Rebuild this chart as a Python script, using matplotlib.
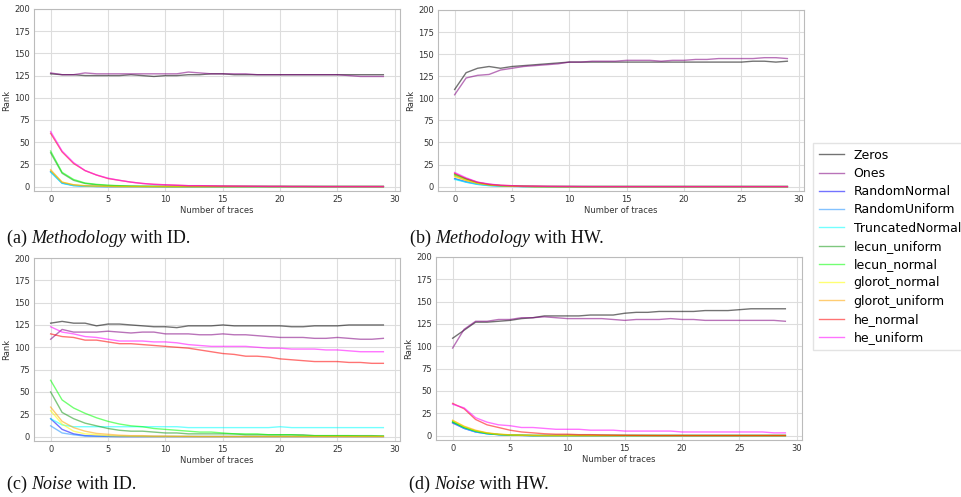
import matplotlib
matplotlib.use("Agg")
import matplotlib.pyplot as plt
import numpy as np

# number of traces on x axis
traces = list(range(30))

names = ["Zeros", "Ones", "RandomNormal", "RandomUniform", "TruncatedNormal",
         "lecun_uniform", "lecun_normal", "glorot_normal", "glorot_uniform",
         "he_normal", "he_uniform"]
colors = ["black", "purple", "blue", "dodgerblue", "cyan", "#159915", "lime",
          "yellow", "orange", "red", "magenta"]

Z = [0] * 30

# (a) Methodology with ID
meth_id = {
    "Zeros": [127, 126, 126, 125, 125, 125, 125, 126, 125, 124, 125, 125, 126, 126, 127,
              127, 126, 126, 126, 126, 126, 126, 126, 126, 126, 126, 126, 126, 126, 126],
    "Ones": [128, 126, 126, 128, 127, 127, 127, 127, 127, 127, 127, 127, 129, 128, 127,
             127, 127, 127, 126, 126, 126, 126, 126, 126, 126, 126, 125, 124, 124, 124],
    "RandomNormal": [17, 4, 1.5, 0.5, 0.2] + Z[:25],
    "RandomUniform": [17, 4, 1, 0.5, 0.1] + Z[:25],
    "TruncatedNormal": [16, 3.5, 1, 0.3, 0.1] + Z[:25],
    "lecun_uniform": [38, 15, 7, 3.5, 2, 1.2, 0.8, 0.4, 0.2, 0.1] + Z[:20],
    "lecun_normal": [40, 16, 8, 4, 2.5, 1.5, 1, 0.5, 0.3, 0.2, 0.1] + Z[:19],
    "glorot_normal": [18, 5, 2, 0.8, 0.4, 0.2] + Z[:24],
    "glorot_uniform": [19, 5, 2, 1, 0.5, 0.2] + Z[:24],
    "he_normal": [60, 39, 26, 18, 13, 9, 7, 5, 3.5, 2.5, 2, 1.5, 1, 1, 0.8, 0.6, 0.5,
                  0.4, 0.3, 0.2, 0.2, 0.1, 0.1, 0, 0, 0, 0, 0, 0, 0],
    "he_uniform": [62, 40, 27, 18, 13, 9.5, 7, 5, 3.5, 2.5, 2, 1.5, 1, 1, 0.8, 0.6, 0.5,
                   0.4, 0.3, 0.2, 0.2, 0.1, 0.1, 0.1, 0, 0, 0, 0, 0, 0],
}

# (b) Methodology with HW
meth_hw = {
    "Zeros": [110, 129, 134, 136, 134, 136, 137, 138, 139, 140, 141, 141, 141, 141, 141,
              141, 141, 141, 141, 141, 141, 141, 141, 141, 141, 141, 142, 142, 141, 142],
    "Ones": [104, 123, 126, 127, 132, 134, 136, 137, 138, 139, 141, 141, 142, 142, 142,
             143, 143, 143, 142, 143, 143, 144, 144, 145, 145, 145, 145, 146, 146, 145],
    "RandomNormal": [9, 5.5, 3, 1.5, 0.8, 0.4, 0.2] + Z[:23],
    "RandomUniform": [9, 5, 2.5, 1.2, 0.6, 0.3] + Z[:24],
    "TruncatedNormal": [8, 5, 2.5, 1, 0.5, 0.2] + Z[:24],
    "lecun_uniform": [14, 9, 4.5, 2.5, 1.2, 0.8, 0.4, 0.2] + Z[:22],
    "lecun_normal": [13, 8, 4, 2, 1, 0.5, 0.2] + Z[:23],
    "glorot_normal": [11, 7, 3.5, 2, 1, 0.5, 0.2] + Z[:23],
    "glorot_uniform": [12, 7, 4, 2, 1, 0.5, 0.2] + Z[:23],
    "he_normal": [15, 9, 5, 2.5, 1.5, 1, 0.5, 0.5, 0.3, 0.2, 0.1] + Z[:19],
    "he_uniform": [16, 10, 5, 3, 1.5, 1, 0.5, 0.5, 0.3, 0.2, 0.2, 0.1] + Z[:18],
}

# (c) Noise with ID
noise_id = {
    "Zeros": [127, 129, 127, 127, 124, 126, 126, 125, 124, 123, 123, 122, 124, 124, 124,
              125, 124, 124, 124, 124, 124, 123, 123, 124, 124, 124, 125, 125, 125, 125],
    "Ones": [109, 120, 117, 117, 117, 118, 117, 116, 117, 117, 115, 115, 115, 114, 114,
             115, 114, 114, 113, 112, 111, 111, 111, 110, 110, 111, 110, 109, 109, 110],
    "RandomNormal": [20, 8, 3, 1, 0.5, 0.2] + Z[:24],
    "RandomUniform": [12, 4, 2, 0.5, 0.2] + Z[:25],
    "TruncatedNormal": [20, 13, 11, 11, 11, 11, 11, 11, 11, 11, 11, 11, 10, 10, 10,
                        10, 10, 10, 10, 10, 11, 10, 10, 10, 10, 10, 10, 10, 10, 10],
    "lecun_uniform": [50, 27, 20, 15, 12, 9, 7, 6, 6, 5, 4, 4, 3, 3, 3,
                      3, 3, 2, 2, 2, 2, 2, 2, 1, 1, 1, 1, 1, 1, 0.5],
    "lecun_normal": [63, 41, 32, 26, 21, 17, 14, 12, 11, 9, 8, 7, 6, 5, 5,
                     4, 3, 3, 3, 2, 2, 2, 1, 1, 1, 1, 1, 0.5, 0.5, 0.5],
    "glorot_normal": [29, 14, 6, 3, 2, 1, 0.5, 0.3, 0.2] + Z[:21],
    "glorot_uniform": [33, 17, 10, 6, 3.5, 2.5, 1.5, 1, 1, 0.5, 0.5, 0.3, 0.2] + Z[:17],
    "he_normal": [115, 112, 111, 108, 108, 106, 104, 104, 103, 102, 101, 100, 99, 97, 95,
                  93, 92, 90, 90, 89, 87, 86, 85, 84, 84, 84, 83, 83, 82, 82],
    "he_uniform": [123, 117, 115, 112, 111, 109, 107, 107, 107, 106, 106, 105, 103, 102, 101,
                   101, 101, 101, 100, 99, 99, 98, 98, 98, 97, 97, 96, 95, 95, 95],
}

# (d) Noise with HW
noise_hw = {
    "Zeros": [109, 118, 127, 127, 128, 129, 131, 132, 134, 134, 134, 134, 135, 135, 135,
              137, 138, 138, 139, 139, 139, 139, 140, 140, 140, 141, 142, 142, 142, 142],
    "Ones": [98, 119, 128, 128, 130, 130, 132, 132, 133, 132, 131, 131, 131, 131, 130,
             129, 130, 130, 130, 131, 130, 130, 129, 129, 129, 129, 129, 129, 129, 128],
    "RandomNormal": [14, 8, 4, 2, 1, 0.5, 0.2] + Z[:23],
    "RandomUniform": [15, 8, 4, 2, 1, 0.5, 0.2] + Z[:23],
    "TruncatedNormal": [15, 8.5, 4.5, 2, 1, 0.5, 0.2] + Z[:23],
    "lecun_uniform": [15, 9, 5, 2.5, 1.2, 0.6, 0.3] + Z[:23],
    "lecun_normal": [16, 9.5, 5, 2.5, 1.2, 0.6, 0.3] + Z[:23],
    "glorot_normal": [17, 10, 5.5, 3, 1.5, 0.8, 0.4, 0.2] + Z[:22],
    "glorot_uniform": [17, 10.5, 6, 3, 1.5, 0.8, 0.4, 0.2] + Z[:22],
    "he_normal": [36, 30, 18, 12, 9, 6, 4, 3, 2, 1.5, 1.5, 1, 1, 0.7, 0.5,
                  0.3, 0.2, 0.1] + Z[:12],
    "he_uniform": [35, 31, 20, 15, 12, 11, 9, 9, 8, 7, 7, 7, 6, 6, 6,
                   5, 5, 5, 5, 5, 4, 4, 4, 4, 4, 4, 4, 4, 3, 3],
}

plt.rcParams["font.family"] = ["DejaVu Sans"]

fig = plt.figure(figsize=(9.62, 4.97), dpi=100)

# axes boxes in pixels: left, top, right, bottom
boxes = [(34, 9, 400, 191), (438, 10, 804, 191),
         (34, 258, 400, 441), (436, 257, 802, 440)]
panels = [meth_id, meth_hw, noise_id, noise_hw]

W, H = 962, 497
axes = []
for (l, t, r, b), data in zip(boxes, panels):
    ax = fig.add_axes([l / W, 1 - b / H, (r - l) / W, (b - t) / H])
    for name, c in zip(names, colors):
        ax.plot(traces, data[name], color=c, alpha=0.55, lw=1.0, label=name)
    ax.set_ylim(-5, 200)
    ax.set_xticks([0, 5, 10, 15, 20, 25, 30])
    ax.set_yticks([0, 25, 50, 75, 100, 125, 150, 175, 200])
    ax.grid(True, color="#dddddd", lw=0.8)
    ax.set_axisbelow(True)
    for s in ax.spines.values():
        s.set_color("#bbbbbb")
        s.set_linewidth(0.8)
    ax.tick_params(labelsize=6, colors="#333333", length=0, pad=3)
    ax.set_xlabel("Number of traces", fontsize=6, color="#333333", labelpad=1)
    ax.set_ylabel("Rank", fontsize=6, color="#333333", labelpad=2)
    axes.append(ax)

handles, labels = axes[0].get_legend_handles_labels()
fig.legend(handles, labels, loc="upper left", bbox_to_anchor=(813 / W, 1 - 143 / H),
           borderaxespad=0, fontsize=9, frameon=True, edgecolor="#dddddd",
           fancybox=False, handlelength=2.0, labelspacing=0.42, borderpad=0.45)

# captions: normal + italic + normal pieces
captions = [(7, 243, "(a) ", "Methodology", " with ID."),
            (410, 243, "(b) ", "Methodology", " with HW."),
            (7, 489, "(c) ", "Noise", " with ID."),
            (409, 489, "(d) ", "Noise", " with HW.")]
cap_font = ["Liberation Serif", "DejaVu Serif"]
fig.canvas.draw()
renderer = fig.canvas.get_renderer()
for x, y, a, b, c in captions:
    px = x
    for txt, style in ((a, "normal"), (b, "italic"), (c, "normal")):
        t = fig.text(px / W, 1 - y / H, txt, fontsize=13, family=cap_font,
                     style=style, va="baseline", ha="left", color="#111111")
        bb = t.get_window_extent(renderer)
        px += bb.width

fig.savefig("out.png", dpi=100)
